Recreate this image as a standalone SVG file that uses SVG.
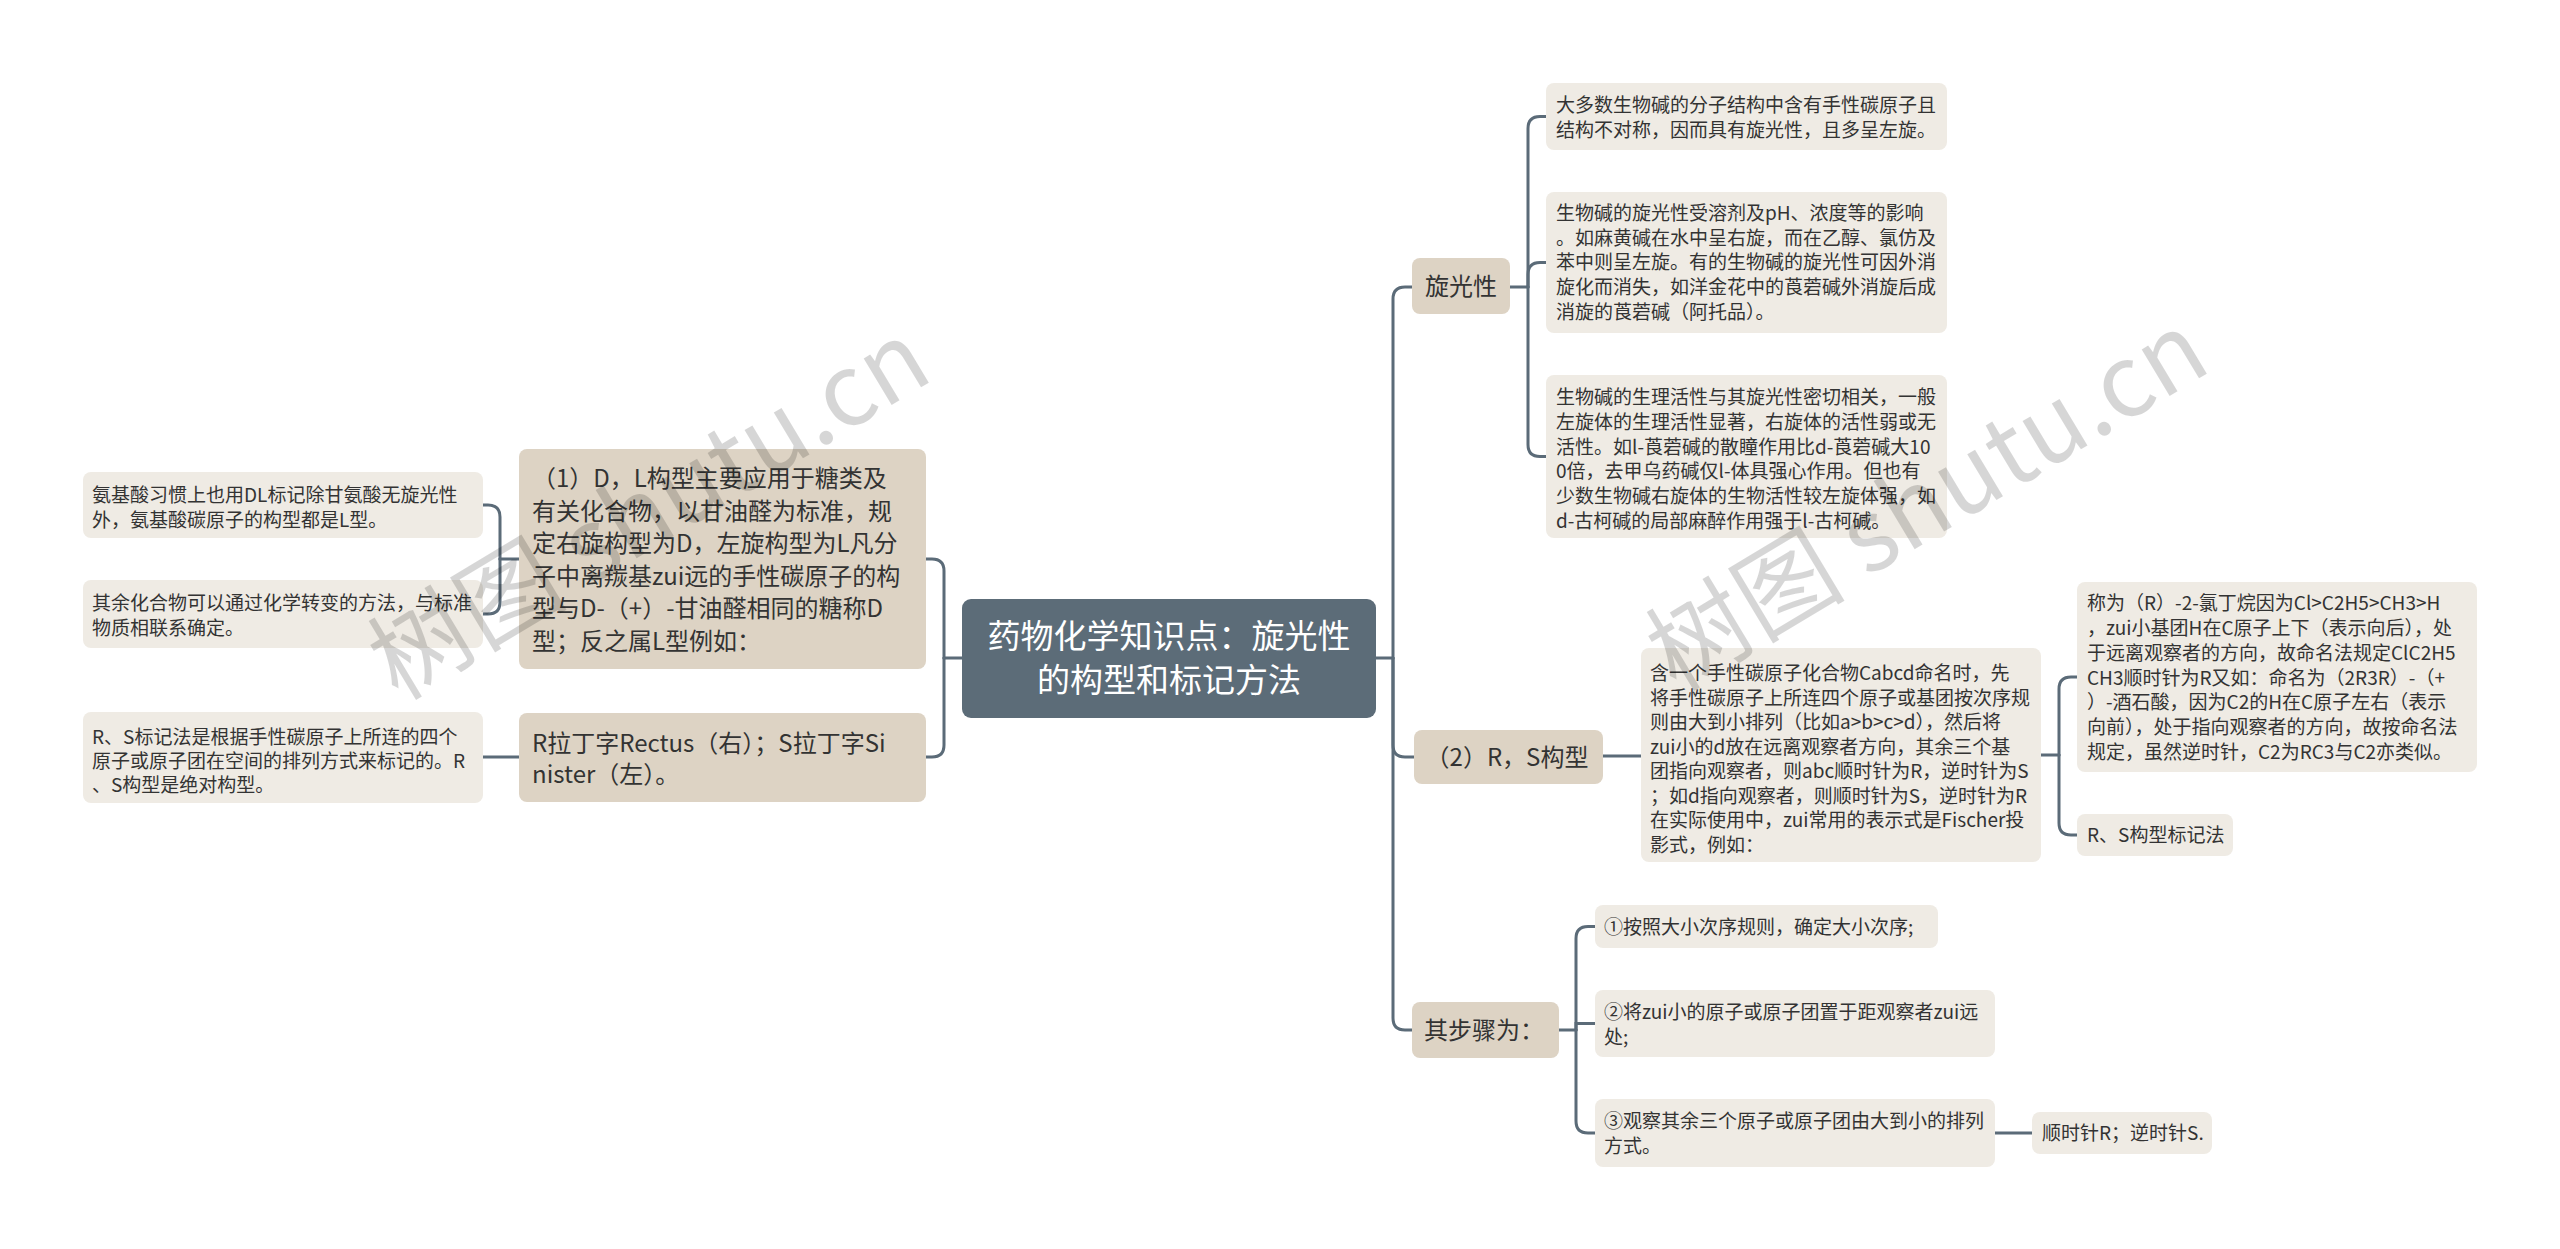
<svg xmlns="http://www.w3.org/2000/svg" width="2560" height="1249" viewBox="0 0 2560 1249">
<style>
text{font-family:"Noto Sans CJK SC","Noto Sans",sans-serif;fill:#333}
.leaf{fill:#efebe4}
.mid{fill:#ddd3c4}
.root{fill:#5c6c78}
.t19{font-size:19px}
.t24{font-size:24px}
.t32{font-size:33px;fill:#fff}
.conn{fill:none;stroke:#5b6b78;stroke-width:3;stroke-linecap:round}
.wm{font-family:"Noto Sans CJK SC",sans-serif;font-size:100px;fill:#000;fill-opacity:0.16}
</style>
<rect width="2560" height="1249" fill="#fff"/>
<g id="connectors" class="conn">
<path d="M1376,658 H1393"/>
<path d="M1393,658 V299 Q1393,287 1405,287 H1412"/>
<path d="M1393,658 V745 Q1393,757 1405,757 H1414"/>
<path d="M1393,658 V1018 Q1393,1030 1405,1030 H1412"/>
<path d="M1510,287 H1528"/>
<path d="M1528,287 V128.5 Q1528,116.5 1540,116.5 H1546"/>
<path d="M1528,287 V274.5 Q1528,262.5 1540,262.5 H1546"/>
<path d="M1528,287 V444.5 Q1528,456.5 1540,456.5 H1546"/>
<path d="M1603,756 H1641"/>
<path d="M2041,755 H2059"/>
<path d="M2059,755 V689 Q2059,677 2071,677 H2077"/>
<path d="M2059,755 V823 Q2059,835 2071,835 H2077"/>
<path d="M1559,1030 H1576"/>
<path d="M1576,1030 V938.5 Q1576,926.5 1588,926.5 H1595"/>
<path d="M1576,1030 V1023.5 H1595"/>
<path d="M1576,1030 V1121 Q1576,1133 1588,1133 H1595"/>
<path d="M1995,1133 H2032"/>
<path d="M962,658 H944"/>
<path d="M944,658 V571 Q944,559 932,559 H926"/>
<path d="M944,658 V745 Q944,757 932,757 H926"/>
<path d="M519,559 H500"/>
<path d="M500,559 V517 Q500,505 488,505 H483"/>
<path d="M500,559 V602 Q500,614 488,614 H483"/>
<path d="M519,757 H483"/>
</g>
<g id="root">
<rect class="root" x="962" y="599" width="414" height="119" rx="9"/>
<text class="t32" x="1169" y="648" text-anchor="middle">药物化学知识点：旋光性</text>
<text class="t32" x="1169" y="692" text-anchor="middle">的构型和标记方法</text>
</g>
<g id="n-xuanguang">
<rect class="mid" x="1412" y="258" width="98" height="56" rx="8"/>
<text class="t24" x="1461" y="295" text-anchor="middle">旋光性</text>
</g>
<g id="n-x1">
<rect class="leaf" x="1546" y="83" width="401" height="67" rx="8"/>
<text class="t19" x="1556" y="112">大多数生物碱的分子结构中含有手性碳原子且</text>
<text class="t19" x="1556" y="137">结构不对称，因而具有旋光性，且多呈左旋。</text>
</g>
<g id="n-x2">
<rect class="leaf" x="1546" y="192" width="401" height="141" rx="8"/>
<text class="t19" x="1556" y="220">生物碱的旋光性受溶剂及pH、浓度等的影响</text>
<text class="t19" x="1556" y="244.5">。如麻黄碱在水中呈右旋，而在乙醇、氯仿及</text>
<text class="t19" x="1556" y="269">苯中则呈左旋。有的生物碱的旋光性可因外消</text>
<text class="t19" x="1556" y="294">旋化而消失，如洋金花中的莨菪碱外消旋后成</text>
<text class="t19" x="1556" y="319">消旋的莨菪碱（阿托品）。</text>
</g>
<g id="n-x3">
<rect class="leaf" x="1546" y="375" width="401" height="163" rx="8"/>
<text class="t19" x="1556" y="404">生物碱的生理活性与其旋光性密切相关，一般</text>
<text class="t19" x="1556" y="429">左旋体的生理活性显著，右旋体的活性弱或无</text>
<text class="t19" x="1556" y="453.5">活性。如l-莨菪碱的散瞳作用比d-莨菪碱大10</text>
<text class="t19" x="1556" y="478">0倍，去甲乌药碱仅l-体具强心作用。但也有</text>
<text class="t19" x="1556" y="503">少数生物碱右旋体的生物活性较左旋体强，如</text>
<text class="t19" x="1556" y="527.5">d-古柯碱的局部麻醉作用强于l-古柯碱。</text>
</g>
<g id="n-rs">
<rect class="mid" x="1414" y="730" width="189" height="54" rx="8"/>
<text class="t24" x="1507" y="766" text-anchor="middle">（2）R，S构型</text>
</g>
<g id="n-rs1">
<rect class="leaf" x="1641" y="648" width="400" height="214" rx="8"/>
<text class="t19" x="1650" y="680">含一个手性碳原子化合物Cabcd命名时，先</text>
<text class="t19" x="1650" y="704.5">将手性碳原子上所连四个原子或基团按次序规</text>
<text class="t19" x="1650" y="729">则由大到小排列（比如a&gt;b&gt;c&gt;d），然后将</text>
<text class="t19" x="1650" y="753.5">zui小的d放在远离观察者方向，其余三个基</text>
<text class="t19" x="1650" y="778">团指向观察者，则abc顺时针为R，逆时针为S</text>
<text class="t19" x="1650" y="802.5">；如d指向观察者，则顺时针为S，逆时针为R</text>
<text class="t19" x="1650" y="827">在实际使用中，zui常用的表示式是Fischer投</text>
<text class="t19" x="1650" y="851.5">影式，例如：</text>
</g>
<g id="n-rs2">
<rect class="leaf" x="2077" y="582" width="400" height="190" rx="8"/>
<text class="t19" x="2087" y="610">称为（R）-2-氯丁烷因为Cl&gt;C2H5&gt;CH3&gt;H</text>
<text class="t19" x="2087" y="635">，zui小基团H在C原子上下（表示向后），处</text>
<text class="t19" x="2087" y="659.5">于远离观察者的方向，故命名法规定ClC2H5</text>
<text class="t19" x="2087" y="684.5">CH3顺时针为R又如：命名为（2R3R）-（+</text>
<text class="t19" x="2087" y="709">）-酒石酸，因为C2的H在C原子左右（表示</text>
<text class="t19" x="2087" y="734">向前），处于指向观察者的方向，故按命名法</text>
<text class="t19" x="2087" y="759">规定，虽然逆时针，C2为RC3与C2亦类似。</text>
</g>
<g id="n-rs3">
<rect class="leaf" x="2077" y="814" width="156" height="42" rx="8"/>
<text class="t19" x="2087" y="842">R、S构型标记法</text>
</g>
<g id="n-steps">
<rect class="mid" x="1412" y="1002" width="147" height="56" rx="8"/>
<text class="t24" x="1424" y="1039">其步骤为：</text>
</g>
<g id="n-s1">
<rect class="leaf" x="1595" y="905" width="343" height="43" rx="8"/>
<text class="t19" x="1604" y="934">①按照大小次序规则，确定大小次序;</text>
</g>
<g id="n-s2">
<rect class="leaf" x="1595" y="990" width="400" height="67" rx="8"/>
<text class="t19" x="1604" y="1019">②将zui小的原子或原子团置于距观察者zui远</text>
<text class="t19" x="1604" y="1044">处;</text>
</g>
<g id="n-s3">
<rect class="leaf" x="1595" y="1099" width="400" height="68" rx="8"/>
<text class="t19" x="1604" y="1128">③观察其余三个原子或原子团由大到小的排列</text>
<text class="t19" x="1604" y="1153">方式。</text>
</g>
<g id="n-s4">
<rect class="leaf" x="2032" y="1112" width="180" height="42" rx="8"/>
<text class="t19" x="2042" y="1140">顺时针R；逆时针S.</text>
</g>
<g id="n-dl">
<rect class="mid" x="519" y="449" width="407" height="220" rx="8"/>
<text class="t24" x="532" y="487">（1）D，L构型主要应用于糖类及</text>
<text class="t24" x="532" y="519.5">有关化合物，以甘油醛为标准，规</text>
<text class="t24" x="532" y="552">定右旋构型为D，左旋构型为L凡分</text>
<text class="t24" x="532" y="584.5">子中离羰基zui远的手性碳原子的构</text>
<text class="t24" x="532" y="617">型与D-（+）-甘油醛相同的糖称D</text>
<text class="t24" x="532" y="649.5">型；反之属L型例如：</text>
</g>
<g id="n-dl1">
<rect class="leaf" x="83" y="472" width="400" height="66" rx="8"/>
<text class="t19" x="92" y="502">氨基酸习惯上也用DL标记除甘氨酸无旋光性</text>
<text class="t19" x="92" y="527">外，氨基酸碳原子的构型都是L型。</text>
</g>
<g id="n-dl2">
<rect class="leaf" x="83" y="580" width="400" height="68" rx="8"/>
<text class="t19" x="92" y="610">其余化合物可以通过化学转变的方法，与标准</text>
<text class="t19" x="92" y="635">物质相联系确定。</text>
</g>
<g id="n-latin">
<rect class="mid" x="519" y="713" width="407" height="89" rx="8"/>
<text class="t24" x="532" y="752">R拉丁字Rectus（右）；S拉丁字Si</text>
<text class="t24" x="532" y="783">nister（左）。</text>
</g>
<g id="n-latin1">
<rect class="leaf" x="83" y="712" width="400" height="91" rx="8"/>
<text class="t19" x="92" y="744">R、S标记法是根据手性碳原子上所连的四个</text>
<text class="t19" x="92" y="768">原子或原子团在空间的排列方式来标记的。R</text>
<text class="t19" x="92" y="792">、S构型是绝对构型。</text>
</g>
<g id="watermark">
<text class="wm" x="649" y="545" text-anchor="middle" transform="rotate(-31 649 510)">树图 shutu.cn</text>
<text class="wm" x="1927" y="536" text-anchor="middle" transform="rotate(-31 1927 501)">树图 shutu.cn</text>
</g>
</svg>
